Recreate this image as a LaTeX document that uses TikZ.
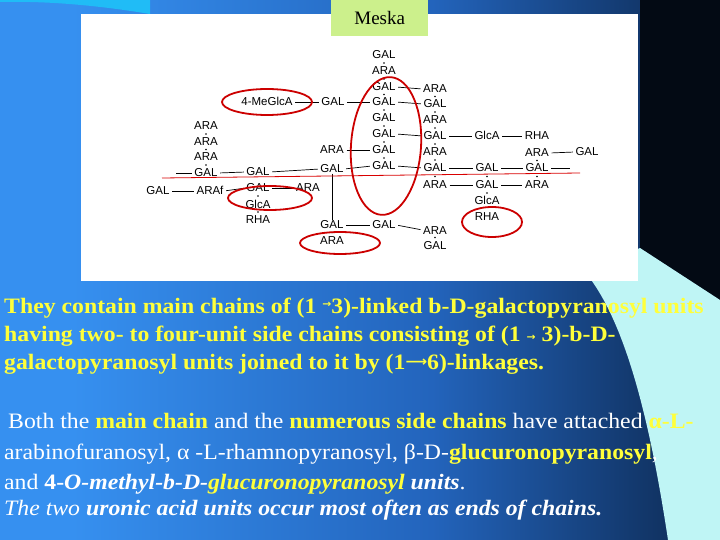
\documentclass[tikz,border=0pt]{standalone}
\usepackage{fontspec}
\usetikzlibrary{calc}
\setmainfont{Liberation Serif}
\newfontfamily\dgf{Liberation Sans}
\newfontfamily\djfont{DejaVu Sans}
\definecolor{c1}{HTML}{3690F0}
\definecolor{c2}{HTML}{2364BC}
\definecolor{c3}{HTML}{0B2448}
\definecolor{c4}{HTML}{030A14}
\definecolor{yel}{HTML}{FFFF3A}
\definecolor{lcyan}{HTML}{BFF5F5}
\definecolor{meska}{HTML}{CCF08C}
\pgfdeclarehorizontalshading{bgsh}{100bp}{color(0bp)=(c1);color(30bp)=(c1);color(55bp)=(c2);color(76bp)=(c3);color(100bp)=(c4)}
\newcommand{\wx}[1]{\scalebox{1.08}[1]{#1}}
\begin{document}
\begin{tikzpicture}[x=1pt,y=-1pt,
  u/.style={font=\dgf\fontsize{11.5}{11.5}\selectfont,inner sep=0.5pt,text height=8pt,text depth=0pt},
  ln/.style={black,line width=0.7pt},
  rel/.style={red!80!black,line width=1.8pt},
  yt/.style={text=yel,font=\bfseries\fontsize{22}{22}\selectfont,anchor=base west,inner sep=0}]
\useasboundingbox (0,0) rectangle (720,540);
\shade[shading=bgsh] (0,0) rectangle (720,540);
\fill[c4] (640,0) -- (720,0) -- (720,300) -- (640,248) -- cycle;
\fill[lcyan] (585,272) -- (640,248) -- (720,300) -- (720,540) -- (668,540) .. controls (650,420) and (625,320) .. (585,272) -- cycle;
\fill[c1!60!cyan] (0,0) -- (150,0) -- (150,14) .. controls (90,4) and (40,1) .. (0,2) -- cycle;
\fill[white] (81,14) rectangle (638,281);
\node[fill=meska,minimum width=97pt,minimum height=36pt,anchor=north west,inner sep=0,font=\fontsize{19}{19}\selectfont] (mk) at (331,0) {Meska};
% main column
\foreach \n/\t/\y in {m1/GAL/55,m2/ARA/71,m3/GAL/87,m4/GAL/102,m5/GAL/118,m6/GAL/134,m7/GAL/150,m8/GAL/166,m9/GAL/225}
  \node[u] (\n) at (384,\y) {\t};
% left part
\node[u] (meg) at (267,102) {4-MeGlcA};
\node[u] (g4) at (333,102) {GAL};
\node[u] (a7) at (332,150) {ARA};
\node[u] (g8) at (332,169) {GAL};
\node[u] (lg) at (258,172) {GAL};
\node[u] (la1) at (206,126) {ARA};
\node[u] (la2) at (206,142) {ARA};
\node[u] (la3) at (206,157) {ARA};
\node[u] (lg0) at (206,173) {GAL};
\coordinate (lst) at (176,173);
\node[u] (bg) at (158,191) {GAL};
\node[u] (araf) at (210,191) {ARAf};
\node[u] (bg2) at (258,188) {GAL};
\node[u] (ba) at (308,188) {ARA};
\node[u] (glca) at (258,204) {GlcA};
\node[u] (rha) at (258,220) {RHA};
\node[u] (g9) at (332,225) {GAL};
\node[u] (a9) at (332,240) {ARA};
% right part
\foreach \n/\t/\y in {r1/ARA/89,r2/GAL/104,r3/ARA/120,r4/GAL/136,r5/ARA/152,r6/GAL/168,r7/ARA/185,r8/ARA/230,r9/GAL/245}
  \node[u] (\n) at (435,\y) {\t};
\node[u] (rgl) at (487,136) {GlcA};
\node[u] (rrh) at (537,136) {RHA};
\node[u] (ra2) at (537,153) {ARA};
\node[u] (rg3) at (587,152) {GAL};
\node[u] (rg4) at (487,168) {GAL};
\node[u] (rg5) at (537,168) {GAL};
\coordinate (rend) at (570,168);
\node[u] (rg6) at (487,185) {GAL};
\node[u] (ra6) at (537,185) {ARA};
\node[u] (rgc) at (487,201) {GlcA};
\node[u] (rrh2) at (487,217) {RHA};
% connectors
\foreach \a/\b in {meg/g4,g4/m4,a7/m7,g8/m8,lg0/lg,lg/g8,bg/araf,araf/bg2,bg2/ba,g9/m9,m3/r1,m4/r2,m6/r4,m8/r6,m9/r8,r4/rgl,rgl/rrh,ra2/rg3,r6/rg4,rg4/rg5,r7/rg6,rg6/ra6}
  \draw[ln,shorten <=2pt,shorten >=2pt] (\a.east) -- (\b.west);
\draw[ln] (lst) -- ([xshift=-2pt]lg0.west);
\draw[ln] ([xshift=2pt]rg5.east) -- (rend);
\draw[ln] (g8.south) -- (g9.north);
% dots for vertical links
\foreach \a/\b in {m1/m2,m2/m3,m3/m4,m4/m5,m5/m6,m6/m7,m7/m8,la1/la2,la2/la3,la3/lg0,bg2/glca,glca/rha,g9/a9,r1/r2,r2/r3,r3/r4,r4/r5,r5/r6,r6/r7,r8/r9,rg4/rg6,rg6/rgc,rg5/ra6,ra2/rg5}
  \fill ($(\a.south)!0.5!(\b.north)$) circle (0.9pt);
\draw[red!85!black,line width=0.8pt] (162,178) -- (580,173);
% ellipses
\draw[rel] (267,102) ellipse (45 and 13);
\draw[rel,rotate around={-4:(386,146)}] (386,146) ellipse (35 and 69);
\draw[rel] (270,198) ellipse (42 and 12);
\draw[rel] (340,243) ellipse (40 and 11);
\draw[rel] (492,222) ellipse (30 and 15);
% texts
\node[yt] (t1) at (4,313) {\wx{They contain main chains of (1 {\djfont\fontsize{10}{10}\selectfont\raisebox{6pt}{→}}3)-linked b-D-galactopyranosyl units}};
\node[yt] (t2) at (4,341) {\wx{having two- to four-unit side chains consisting of (1 {\djfont\fontsize{10}{10}\selectfont\raisebox{1pt}{→}} 3)-b-D-}};
\node[yt] (t3) at (4,369) {\wx{galactopyranosyl units joined to it by (1{\djfont\fontsize{14}{14}\selectfont\raisebox{3pt}{⟶}}6)-linkages.}};
\begin{scope}[every node/.style={text=white,font=\fontsize{22}{22}\selectfont,anchor=base west,inner sep=0}]
\node (b1) at (8,428) {\wx{Both the \textcolor{yel}{\bfseries main chain} and the \textcolor{yel}{\bfseries numerous side chains} have attached \textcolor{yel}{\bfseries α-L-}}};
\node (b2) at (4,459) {\wx{arabinofuranosyl, α -L-rhamnopyranosyl, β-D-\textcolor{yel}{\bfseries glucuronopyranosyl},}};
\node (b3) at (4,489) {\wx{and \textbf{4-\textit{O-methyl-b-D-}}\textcolor{yel}{\bfseries\itshape glucuronopyranosyl} \textbf{\itshape units}.}};
\node (b4) at (4,515) {\wx{\itshape The two \bfseries uronic acid units occur most often as ends of chains.}};
\end{scope}
\end{tikzpicture}
\end{document}
